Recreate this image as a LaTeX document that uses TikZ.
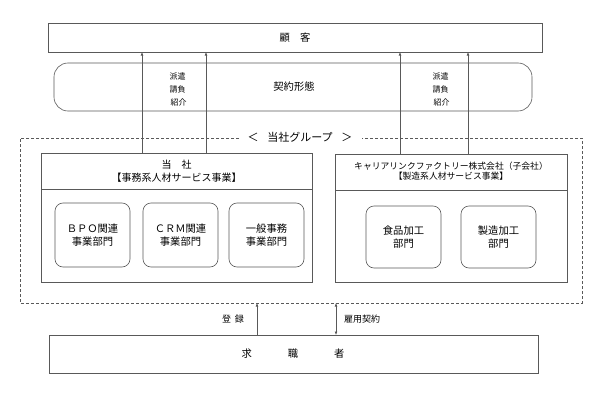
\documentclass[tikz,border=0pt]{standalone}
\usepackage{fontspec}
\setmainfont{Noto Sans CJK JP}
\usetikzlibrary{arrows.meta}
\begin{document}
\begin{tikzpicture}[x=1pt,y=-1pt,
  line/.style={draw=black!65,line width=0.6pt},
  box/.style={line},
  rbox/.style={line,rounded corners=8pt},
  arr/.style={line,-{Latex[length=3.5pt,width=2.8pt]}},
  lbl/.style={font=\fontsize{8}{10}\selectfont,inner sep=0pt},
  txt/.style={font=\fontsize{10.3}{13}\selectfont,inner sep=0pt,align=center}]
\useasboundingbox (0,0) rectangle (600,415);
% top customer box
\draw[box] (48,23) rectangle (542,52);
\node[txt] (kokyaku) at (295,37.5) {顧\hspace{1em}客};
\coordinate (K1) at (142,52); \coordinate (K2) at (206,52);
\coordinate (K3) at (400,52); \coordinate (K4) at (468,52);
% contract form
\draw[rbox,rounded corners=14pt] (54,63) rectangle (532,111);
\node[txt] (keiyaku) at (294,87) {契約形態};
\node[lbl,align=left] (L1) at (178,89) {派遣\\[3pt]請負\\[3pt]\hspace{1pt}紹介};
\node[lbl,align=left] (L2) at (441,89) {派遣\\[3pt]請負\\[3pt]\hspace{1pt}紹介};
% group dashed
\draw[line,dashed,dash pattern=on 3pt off 2pt] (239,138) -- (20,138) -- (20,303) -- (582,303) -- (582,138) -- (362,138);
\node[txt,font=\fontsize{11}{13}\selectfont] (grp) at (300,137) {＜\hspace{0.8em}当社グループ\hspace{0.8em}＞};
% left company
\draw[box] (41,153) rectangle (312,282);
\draw[line] (41,189) -- (312,189);
\node[txt,font=\fontsize{10}{13}\selectfont] (t1) at (176.5,171) {当\hspace{1em}社\\【事務系人材サービス事業】};
\draw[rbox] (55,203) rectangle (130,267);
\node[txt] (bpo) at (92.5,235) {ＢＰＯ関連\\事業部門};
\draw[rbox] (143,203) rectangle (218,267);
\node[txt] (crm) at (180.5,235) {ＣＲＭ関連\\事業部門};
\draw[rbox] (229,203) rectangle (304,267);
\node[txt] (ippan) at (266.5,235) {一般事務\\事業部門};
% right company
\draw[box] (335,154) rectangle (567,282);
\draw[line] (335,190) -- (567,190);
\node[txt,font=\fontsize{8.8}{10.5}\selectfont] (t2) at (451,171) {キャリアリンクファクトリー株式会社（子会社）\\【製造系人材サービス事業】};
\draw[rbox] (366,206) rectangle (441,268);
\node[txt] (shoku) at (403.5,237) {食品加工\\部門};
\draw[rbox] (461,206) rectangle (536,268);
\node[txt] (seizo) at (498.5,237) {製造加工\\部門};
% up arrows
\coordinate (A1) at (142,153); \coordinate (A2) at (206,153);
\coordinate (A3) at (400,154); \coordinate (A4) at (468,154);
\draw[arr] (A1) -- (K1);
\draw[arr] (A2) -- (K2);
\draw[arr] (A3) -- (K3);
\draw[arr] (A4) -- (K4);
% job seekers
\draw[box] (49,335) rectangle (538,373);
\node[txt] (kyushoku) at (293,354) {求\hspace{3.5em}職\hspace{3.5em}者};
\coordinate (B1) at (257,335); \coordinate (G1) at (257,303);
\coordinate (B2) at (336,335); \coordinate (G2) at (336,303);
\draw[arr] (B1) -- (G1);
\draw[line,{Latex[length=3.5pt,width=2.8pt]}-{Latex[length=3.5pt,width=2.8pt]}] (G2) -- (B2);
\node[lbl,font=\fontsize{9}{10}\selectfont] (toroku) at (233,319) {登\hspace{0.4em}録};
\node[lbl,font=\fontsize{9}{10}\selectfont] (koyo) at (362,319) {雇用契約};
\end{tikzpicture}
\end{document}
